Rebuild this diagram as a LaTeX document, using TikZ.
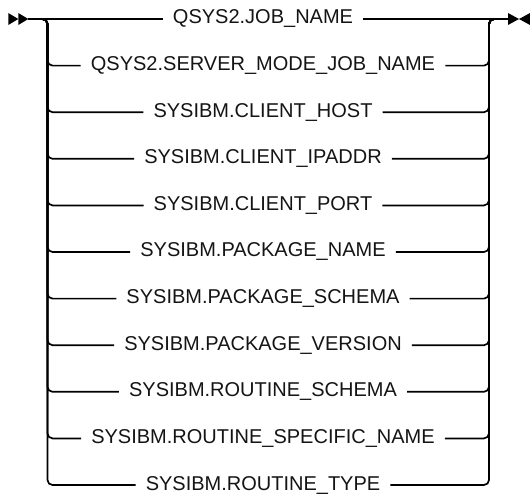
\documentclass[tikz,border=0pt]{standalone}
\usepackage{fontspec}
\setmainfont{Liberation Sans}
\begin{document}
\begin{tikzpicture}[x=1pt,y=-1pt,
  rail/.style={line width=1.7pt, rounded corners=5pt},
  lbl/.style={inner xsep=10pt, inner ysep=0pt, font=\fontsize{20}{22}\selectfont, anchor=center, text=black!92},
  tri/.style={fill=black, draw=none}]
\useasboundingbox (0,0) rectangle (530,498);
\coordinate (s) at (28,19);
\coordinate (e) at (508,19);
\coordinate (Ltop) at (47.5,19);
\coordinate (Rtop) at (489,19);
% start marker
\fill[tri] (8.3,13) -- (18.3,19) -- (8.3,25) -- cycle;
\fill[tri] (18.3,13) -- (28.3,19) -- (18.3,25) -- cycle;
% end marker
\fill[tri] (508,13) -- (519,19) -- (508,25) -- cycle;
\fill[tri] (530,13) -- (519,19) -- (530,25) -- cycle;
\foreach \i/\t in {1/QSYS2.JOB\_NAME,2/QSYS2.SERVER\_MODE\_JOB\_NAME,3/SYSIBM.CLIENT\_HOST,4/SYSIBM.CLIENT\_IPADDR,5/SYSIBM.CLIENT\_PORT,6/SYSIBM.PACKAGE\_NAME,7/SYSIBM.PACKAGE\_SCHEMA,8/SYSIBM.PACKAGE\_VERSION,9/SYSIBM.ROUTINE\_SCHEMA,10/SYSIBM.ROUTINE\_SPECIFIC\_NAME,11/SYSIBM.ROUTINE\_TYPE}{
  \pgfmathsetmacro{\yy}{19+46.6*(\i-1)}
  \node[lbl] (l\i) at (263,\yy) {\t};
}
\draw[rail] (s) -- (l1.west);
\draw[rail] (l1.east) -- (e);
\foreach \i in {2,...,11}{
  \draw[rail] (s) -- (Ltop) |- (l\i.west);
  \draw[rail] (l\i.east) -| (Rtop) -- (e);
}
\end{tikzpicture}
\end{document}
